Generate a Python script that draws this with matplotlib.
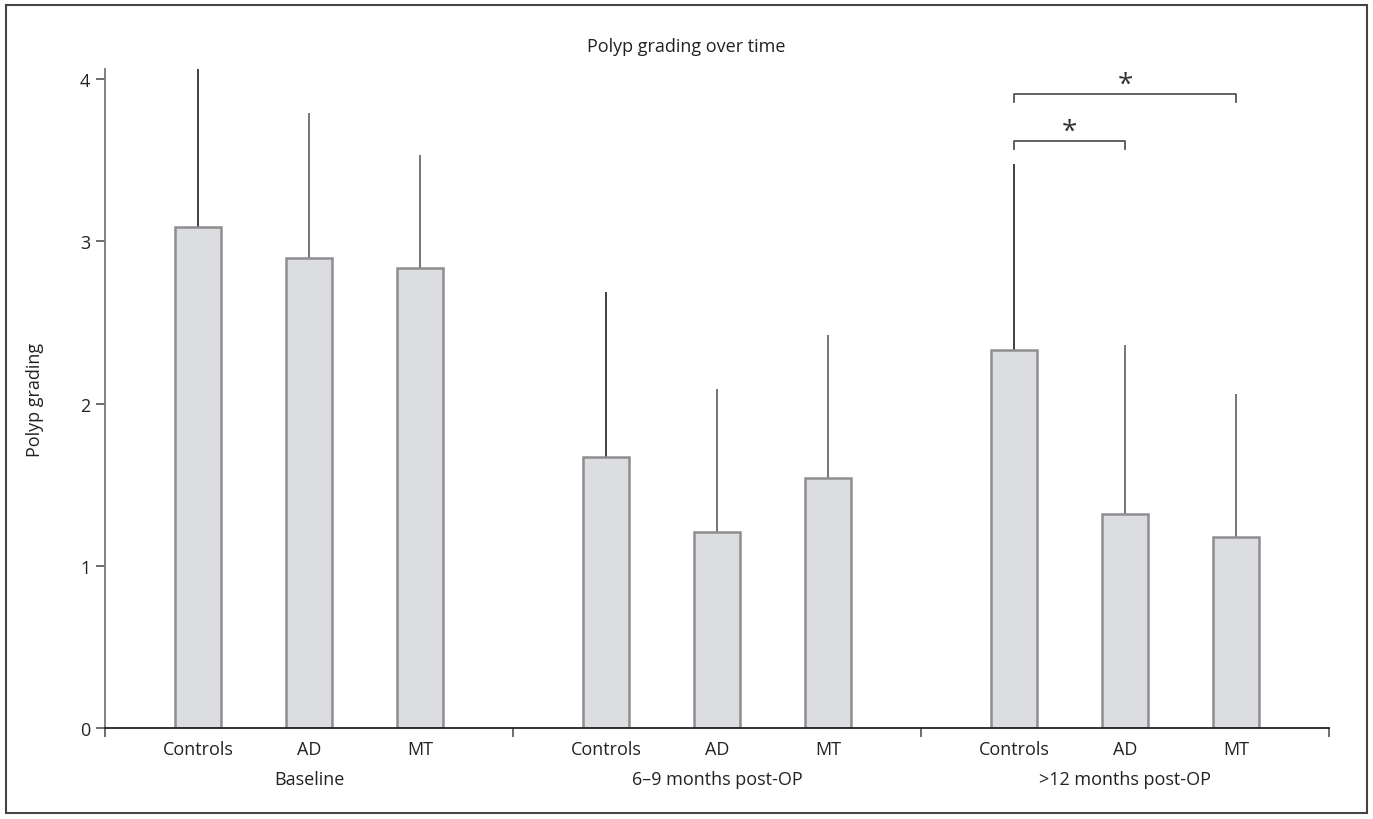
import matplotlib
matplotlib.use("Agg")
import matplotlib.pyplot as plt
from matplotlib.patches import Rectangle
import numpy as np

plt.rcParams['font.family'] = ['Open Sans', 'DejaVu Sans']

groups = ["Baseline", "6–9 months post-OP", ">12 months post-OP"]
categories = ["Controls", "AD", "MT"]
means = [[3.09, 2.90, 2.835],
         [1.67, 1.21, 1.54],
         [2.33, 1.32, 1.18]]
upper = [[4.06, 3.79, 3.53],
         [2.69, 2.09, 2.42],
         [3.475, 2.36, 2.06]]
# significance brackets: (group, cat_a, cat_b, level)
sig_pairs = [(2, 0, 2, 3.91), (2, 0, 1, 3.62)]

FS = 13

fig = plt.figure(figsize=(13.73, 8.2), dpi=100)
ax = fig.add_axes([105/1373, 91/820, (1329-105)/1373, (729-70)/820])

offsets = [0.228, 0.5, 0.772]
bw = 0.115
face = "#dcdde0"
edge = "#8e8e90"

centers = []
for g in range(3):
    for c in range(3):
        x = g + offsets[c]
        centers.append(x)
        ax.bar(x, means[g][c], width=bw, color=face, edgecolor=edge,
               linewidth=1.8, zorder=2)
        ax.vlines(x, means[g][c], upper[g][c], color="#333333" if c == 0 else "#6a6a6a",
                  linewidth=1.3, zorder=1)

ax.set_xlim(0, 3)
ax.set_ylim(0, 4.062)

for s in ["top", "right"]:
    ax.spines[s].set_visible(False)
ax.spines["left"].set_color("#777777")
ax.spines["left"].set_linewidth(1.3)
ax.spines["bottom"].set_color("#222222")
ax.spines["bottom"].set_linewidth(1.3)

ax.set_yticks([0, 1, 2, 3, 4])
ax.tick_params(axis="y", direction="out", length=6.5, width=1.2, color="#555555",
               labelsize=FS, labelcolor="#222222", pad=4)
ax.set_xticks([0, 1, 2, 3])
ax.set_xticklabels([])
ax.tick_params(axis="x", which="major", direction="out", length=6.5, width=1.2,
               color="#555555")
ax.set_xticks(centers, minor=True)
ax.set_xticklabels(categories * 3, minor=True)
ax.tick_params(axis="x", which="minor", length=0, labelsize=FS,
               labelcolor="#222222", pad=9)

for g, name in enumerate(groups):
    ax.text(g + 0.5, -0.315, name, ha="center", va="center", fontsize=FS,
            color="#222222", transform=ax.transData, clip_on=False)

ax.set_ylabel("Polyp grading", fontsize=FS, color="#222222", labelpad=26)
fig.text(0.5, 1 - 47/820, "Polyp grading over time", ha="center", va="center",
         fontsize=FS, color="#222222")

for (g, a, b, lvl) in sig_pairs:
    xa = g + offsets[a]
    xb = g + offsets[b]
    col = "#555555"
    ax.plot([xa, xa, xb, xb], [lvl - 0.05, lvl, lvl, lvl - 0.05], color=col,
            linewidth=1.3, clip_on=False)
    ax.text((xa + xb) / 2, lvl - 0.03, "*", ha="center", va="bottom",
            fontsize=20, color="#333333", clip_on=False)

fig.patches.append(Rectangle((6/1373, 6/820), 1361/1373, 808/820,
                             transform=fig.transFigure, fill=False,
                             edgecolor="#444444", linewidth=1.5))

fig.savefig("out.png", dpi=100)
